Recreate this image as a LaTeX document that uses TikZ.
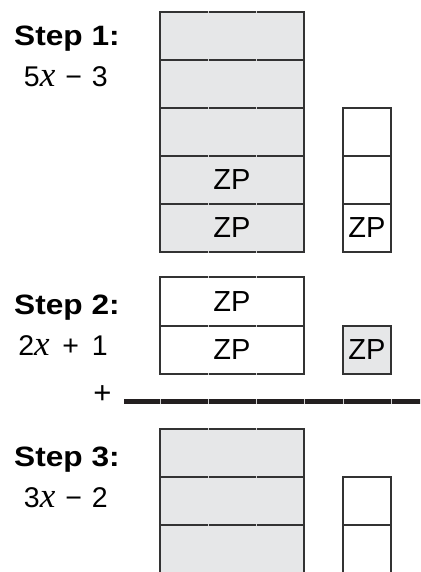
\documentclass[tikz,border=0pt]{standalone}
\usepackage{fontspec}
\setmainfont{Liberation Sans}
\newfontfamily\stepfont{Liberation Sans}[FakeStretch=1.13]
\newfontfamily\varfont{Liberation Serif}
\definecolor{tilegray}{HTML}{E6E7E8}
\definecolor{edgegray}{HTML}{333333}
\definecolor{barblack}{HTML}{231F20}
\newcommand{\xv}{{\varfont\itshape\fontsize{35}{36}\selectfont x}}
\tikzset{
  tile/.style={draw=edgegray, line width=1.1pt, rectangle, inner sep=0pt, outer sep=0pt,
    minimum height=48pt, font=\fontsize{29}{30}\selectfont},
  bigtile/.style={tile, minimum width=144pt},
  unittile/.style={tile, minimum width=48pt},
  shaded/.style={fill=tilegray},
  blank/.style={fill=white},
  steplabel/.style={anchor=base west, inner sep=0pt, font=\stepfont\bfseries\fontsize{28}{30}\selectfont},
  expr/.style={anchor=base east, inner sep=0pt, font=\fontsize{28.5}{30}\selectfont},
  seam/.style={draw=gray!35, line width=0.6pt},
}
\begin{document}
\begin{tikzpicture}[x=1pt, y=-1pt]
\useasboundingbox (0,0) rectangle (420,572);
\clip (0,0) rectangle (420,572);

% Step 1: 5x - 3
\node[steplabel] (s1) at (14,45.7) {Step 1:};
\node[expr] (e1) at (108,86.7) {5\xv\hspace{0.35em}\char"2212\hspace{0.35em}3};
\node[bigtile, shaded] (a1) at (232,36) {};
\node[bigtile, shaded] (a2) at (232,84) {};
\node[bigtile, shaded] (a3) at (232,132) {};
\node[bigtile, shaded] (a4) at (232,180) {ZP};
\node[bigtile, shaded] (a5) at (232,228) {ZP};
\node[unittile, blank] (u1) at (367,132) {};
\node[unittile, blank] (u2) at (367,180) {};
\node[unittile, blank] (u3) at (367,228) {ZP};

% Step 2: 2x + 1
\node[steplabel] (s2) at (14,314) {Step 2:};
\node[expr] (e2) at (108,355) {2\xv\hspace{0.45em}+\hspace{0.45em}1};
\node[bigtile, blank, minimum height=49pt] (b1) at (232,301.5) {ZP};
\node[bigtile, blank] (b2) at (232,350) {ZP};
\node[unittile, shaded] (v1) at (367,350) {ZP};

% sum bar
\node[inner sep=0pt, font=\fontsize{31}{32}\selectfont] (plus) at (102.5,395) {+};
\coordinate (barL) at (124,401.5);
\coordinate (barR) at (421,401.5);
\draw[barblack, line width=5pt] (barL) -- (barR);
\foreach \t in {160,208,256,304,343,391}
  \draw[seam] (\t,399) -- (\t,404);

% Step 3: 3x - 2
\node[steplabel] (s3) at (14,466) {Step 3:};
\node[expr] (e3) at (108,507) {3\xv\hspace{0.35em}\char"2212\hspace{0.35em}2};
\node[bigtile, shaded] (c1) at (232,453) {};
\node[bigtile, shaded] (c2) at (232,501) {};
\node[bigtile, shaded, minimum height=60pt] (c3) at (232,555) {};
\node[unittile, blank] (w1) at (367,501) {};
\node[unittile, blank, minimum height=60pt] (w2) at (367,555) {};

% faint seams where the long tiles join
\foreach \y in {12,60,108,156,204,252,277,326,374,429,477,525}
  \foreach \t in {208,256}
    \draw[seam] (\t,\y-0.6) -- (\t,\y+0.6);
\end{tikzpicture}
\end{document}
